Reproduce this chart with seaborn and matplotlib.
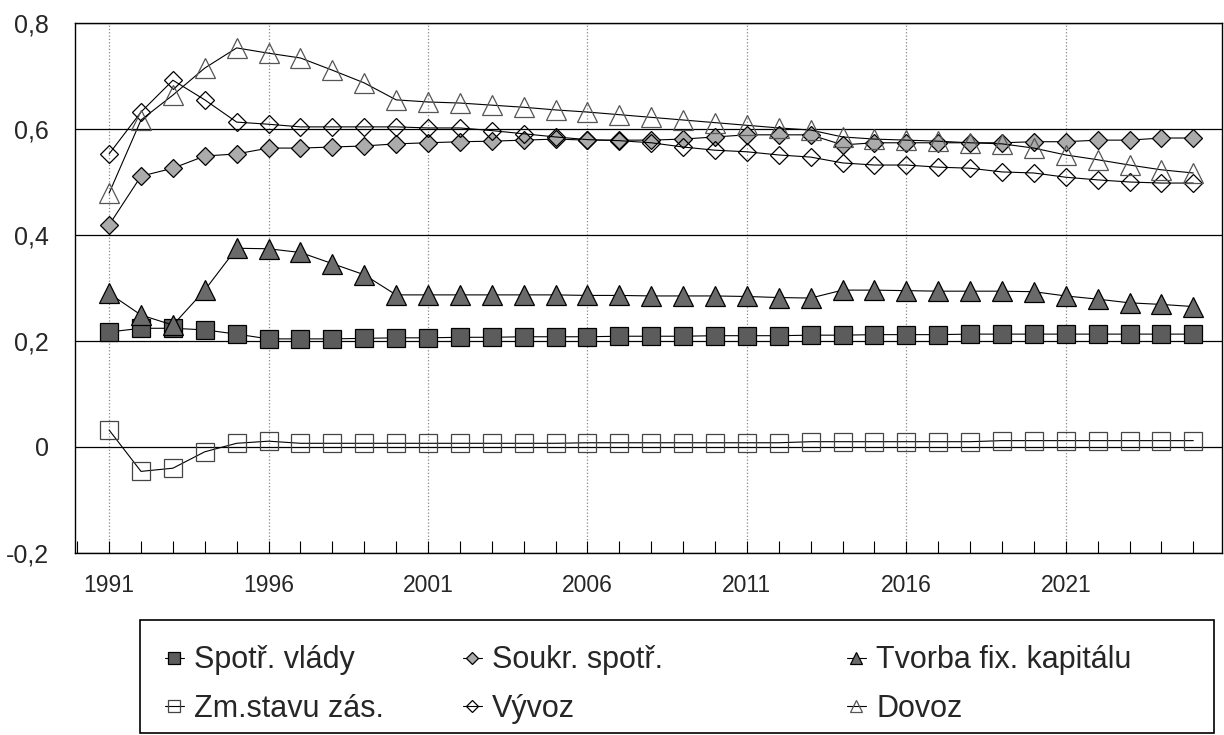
import matplotlib
matplotlib.use("Agg")
import matplotlib.pyplot as plt
import matplotlib.patches as patches
from matplotlib.ticker import MultipleLocator
import seaborn as sns

# data
years = list(range(1991, 2026))

spotr_vlady = [0.217, 0.224, 0.224, 0.221, 0.213, 0.204, 0.204, 0.204, 0.205, 0.206,
               0.206, 0.207, 0.207, 0.208, 0.208, 0.208, 0.209, 0.209, 0.209, 0.210,
               0.210, 0.210, 0.211, 0.211, 0.212, 0.212, 0.212, 0.213, 0.213, 0.213,
               0.213, 0.213, 0.213, 0.213, 0.213]
soukr_spotr = [0.419, 0.511, 0.526, 0.549, 0.553, 0.564, 0.564, 0.566, 0.568, 0.572,
               0.574, 0.576, 0.577, 0.579, 0.581, 0.579, 0.579, 0.579, 0.581, 0.585,
               0.589, 0.589, 0.589, 0.570, 0.574, 0.574, 0.574, 0.574, 0.574, 0.576,
               0.576, 0.579, 0.579, 0.583, 0.583]
tvorba_kap = [0.290, 0.249, 0.230, 0.296, 0.375, 0.374, 0.367, 0.346, 0.325, 0.287,
              0.287, 0.287, 0.287, 0.287, 0.287, 0.286, 0.286, 0.285, 0.285, 0.285,
              0.284, 0.282, 0.281, 0.296, 0.296, 0.295, 0.294, 0.294, 0.294, 0.293,
              0.285, 0.279, 0.272, 0.269, 0.265]
zm_stavu = [0.032, -0.046, -0.040, -0.009, 0.007, 0.011, 0.007, 0.007, 0.007, 0.007,
            0.007, 0.007, 0.007, 0.007, 0.007, 0.008, 0.008, 0.008, 0.008, 0.008,
            0.008, 0.008, 0.010, 0.010, 0.010, 0.010, 0.010, 0.010, 0.012, 0.012,
            0.012, 0.012, 0.012, 0.012, 0.012]
vyvoz = [0.553, 0.632, 0.692, 0.655, 0.613, 0.609, 0.604, 0.604, 0.604, 0.604,
         0.602, 0.602, 0.597, 0.591, 0.585, 0.580, 0.578, 0.574, 0.566, 0.560,
         0.557, 0.551, 0.547, 0.536, 0.532, 0.532, 0.528, 0.526, 0.519, 0.517,
         0.509, 0.504, 0.500, 0.498, 0.498]
dovoz = [0.479, 0.617, 0.664, 0.715, 0.753, 0.743, 0.734, 0.711, 0.687, 0.655,
         0.651, 0.649, 0.645, 0.641, 0.636, 0.632, 0.627, 0.622, 0.617, 0.612,
         0.607, 0.602, 0.598, 0.585, 0.581, 0.579, 0.577, 0.574, 0.572, 0.564,
         0.551, 0.542, 0.532, 0.523, 0.517]

series_names = ["Spotř. vlády", "Zm.stavu zás.", "Soukr. spotř.", "Vývoz",
                "Tvorba fix. kapitálu", "Dovoz"]
xtick_years = [1991, 1996, 2001, 2006, 2011, 2016, 2021]
ytick_vals = [-0.2, 0, 0.2, 0.4, 0.6, 0.8]
ytick_labels = ["-0,2", "0", "0,2", "0,4", "0,6", "0,8"]

sns.set_theme(style="white")
plt.rcParams["font.family"] = ["Liberation Sans", "DejaVu Sans"]

W, H = 1224, 735
fig = plt.figure(figsize=(W / 100, H / 100), dpi=100)
ax = fig.add_axes([75 / W, 1 - 553 / H, (1222 - 75) / W, (553 - 23) / H])

# marker styles per series
styles = {
    "Spotř. vlády": dict(y=spotr_vlady, marker="s", ms=13, mfc="#5c5c5c", mec="black"),
    "Zm.stavu zás.": dict(y=zm_stavu, marker="s", ms=13, mfc="none", mec="#444444"),
    "Soukr. spotř.": dict(y=soukr_spotr, marker="D", ms=9.5, mfc="#ababab", mec="black"),
    "Vývoz": dict(y=vyvoz, marker="D", ms=9.5, mfc="none", mec="black"),
    "Tvorba fix. kapitálu": dict(y=tvorba_kap, marker="^", ms=14, mfc="#6a6a6a", mec="black"),
    "Dovoz": dict(y=dovoz, marker="^", ms=14, mfc="none", mec="#555555"),
}

draw_order = ["Zm.stavu zás.", "Spotř. vlády", "Tvorba fix. kapitálu",
              "Soukr. spotř.", "Vývoz", "Dovoz"]
handles = {}
for name in draw_order:
    st = styles[name]
    n_before = len(ax.lines)
    sns.lineplot(x=years, y=st["y"], ax=ax, color="black", linewidth=0.8,
                 marker=st["marker"], markersize=st["ms"],
                 markerfacecolor=st["mfc"], markeredgecolor=st["mec"],
                 markeredgewidth=0.9, errorbar=None, legend=False, label=name)
    handles[name] = ax.lines[n_before]

ax.set_xlim(1989.93, 2025.9)
ax.set_ylim(-0.2, 0.8)
ax.set_xticks(xtick_years)
ax.set_xticklabels([str(y) for y in xtick_years])
ax.xaxis.set_minor_locator(MultipleLocator(1))
ax.set_yticks(ytick_vals)
ax.set_yticklabels(ytick_labels)
ax.tick_params(axis="x", which="both", direction="in", length=9, width=0.8,
               color="black", labelsize=16.5, pad=15, bottom=True)
ax.tick_params(axis="y", length=0, labelsize=18, pad=19)
ax.set_xlabel("")
ax.set_ylabel("")

ax.grid(axis="y", color="black", linewidth=0.9)
ax.grid(axis="x", which="major", color="#888888", linestyle=":", linewidth=0.9)
ax.set_axisbelow(True)
for sp in ax.spines.values():
    sp.set_visible(True)
    sp.set_color("black")
    sp.set_linewidth(1.0)

# legend box: three columns inside one frame
fig.patches.append(patches.Rectangle((140 / W, 2 / H), (1214 - 140) / W, (733 - 620) / H,
                                     transform=fig.transFigure, fill=False,
                                     edgecolor="black", linewidth=1.2))
columns = [(["Spotř. vlády", "Zm.stavu zás."], 150),
           (["Soukr. spotř.", "Vývoz"], 448),
           (["Tvorba fix. kapitálu", "Dovoz"], 832)]
for names, x0 in columns:
    leg = fig.legend([handles[n] for n in names], names, loc="upper left",
                     bbox_to_anchor=(x0 / W, 1 - 630 / H), frameon=False,
                     fontsize=22, markerscale=0.65, handlelength=0.6,
                     handletextpad=0.35, labelspacing=0.6, borderpad=0)

fig.savefig("out.png", dpi=100)
